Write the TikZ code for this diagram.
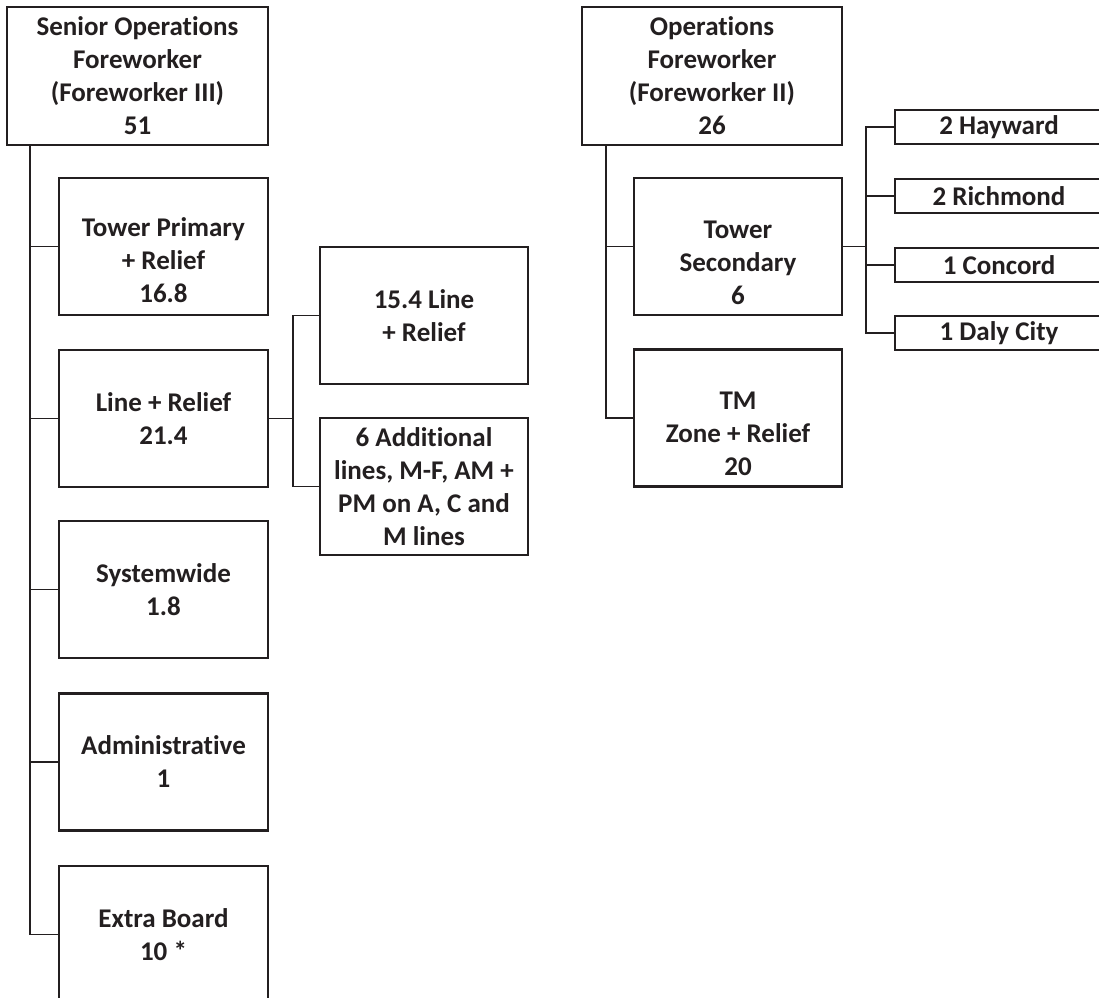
\documentclass[tikz,border=0pt]{standalone}
\usepackage{fontspec}
\setmainfont{Carlito}[Ligatures={NoCommon,NoRare,NoContextual}]
\definecolor{ink}{HTML}{231F20}
\newcommand{\lowfirst}[1]{\mbox{}\\[#1]}
\begin{document}
\begin{tikzpicture}[x=1pt,y=-1pt,
  box/.style={draw=ink, line width=2.8pt, align=center, text=ink, inner sep=0pt,
    font=\fontsize{27}{33}\selectfont\bfseries, minimum width=#1},
  box/.default=209pt,
  conn/.style={draw=ink, line width=1.3pt}]
\clip (0,0) rectangle (1099,997);
\fill[white] (0,0) rectangle (1099,997);
% left tree
\node[box=261pt, minimum height=138pt] (senior) at (137.5,76) {Senior Operations\\Foreworker\\(Foreworker III)\\51};
\node[box, minimum height=137pt] (tp) at (163.5,246.5) {\lowfirst{13pt}Tower Primary\\+ Relief\\16.8};
\node[box, minimum height=137pt] (lr) at (163.5,418.5) {Line + Relief\\21.4};
\node[box, minimum height=137pt] (sw) at (163.5,589.5) {Systemwide\\1.8};
\node[box, minimum height=137pt] (adm) at (163.5,762) {Administrative\\1};
\node[box, minimum height=137pt] (eb) at (163.5,934.5) {Extra Board\\10 *};
\node[box=208pt, minimum height=137pt] (l154) at (424,315.5) {15.4 Line\\+ Relief};
\node[box=208pt, minimum height=137pt] (add6) at (424,486.5) {6 Additional\\lines, M-F, AM +\\PM on A, C and\\M lines};
% right tree
\node[box=260pt, minimum height=138pt] (ops) at (712,76) {Operations\\Foreworker\\(Foreworker II)\\26};
\node[box=208pt, minimum height=137pt] (ts) at (738,246.5) {\lowfirst{17pt}Tower\\Secondary\\6};
\node[box=208pt, minimum height=137pt] (tm) at (738,418) {\lowfirst{17pt}TM\\Zone + Relief\\20};
\node[box=208pt, minimum height=34pt] (hay) at (999,127) {2 Hayward};
\node[box=208pt, minimum height=34pt] (ric) at (999,196) {2 Richmond};
\node[box=208pt, minimum height=34pt] (con) at (999,265) {1 Concord};
\node[box=208pt, minimum height=34pt] (daly) at (999,333) {1 Daly City};
% connectors
\coordinate (s0) at (30,145);
\draw[conn] (s0) |- (tp.west);
\draw[conn] (s0) |- (lr.west);
\draw[conn] (s0) |- (sw.west);
\draw[conn] (s0) |- (adm.west);
\draw[conn] (s0) |- (eb.west);
\coordinate (b2) at (293,418.5);
\draw[conn] (lr.east) -- (b2);
\draw[conn] (b2) |- (l154.west);
\draw[conn] (b2) |- (add6.west);
\coordinate (o0) at (606,145);
\draw[conn] (o0) |- (ts.west);
\draw[conn] (o0) |- (tm.west);
\coordinate (b1) at (866,246.5);
\draw[conn] (ts.east) -- (b1);
\draw[conn] (b1) |- (hay.west);
\draw[conn] (b1) |- (ric.west);
\draw[conn] (b1) |- (con.west);
\draw[conn] (b1) |- (daly.west);
\end{tikzpicture}
\end{document}
